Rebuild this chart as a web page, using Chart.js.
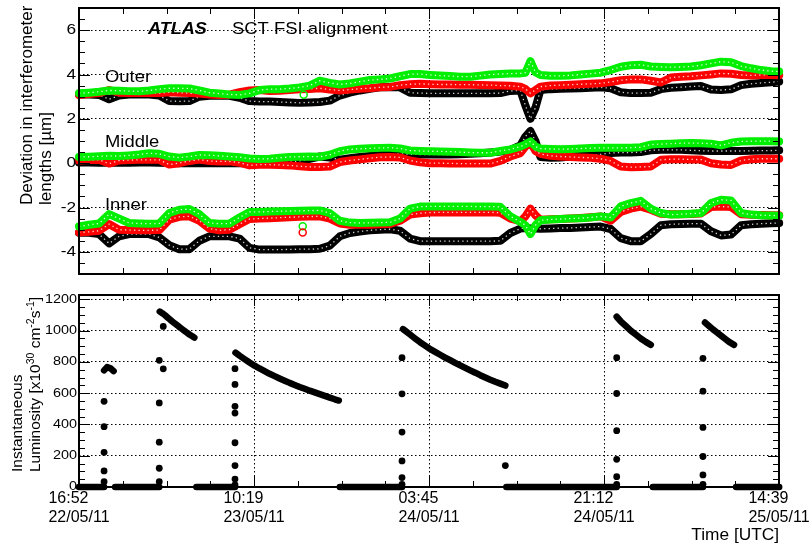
<!DOCTYPE html>
<html>
<head>
<meta charset="utf-8">
<script src="https://cdn.jsdelivr.net/npm/chart.js@4.4.0/dist/chart.umd.min.js"></script>
<style>
  html, body { margin: 0; padding: 0; background: #fff; }
  #wrap { position: relative; width: 811px; height: 544px; }
  canvas { position: absolute; left: 0; }
  #top { top: 0; }
  #bottom { top: 285px; }
</style>
</head>
<body>
<div id="wrap">
  <canvas id="top" width="811" height="285"></canvas>
  <canvas id="bottom" width="811" height="259"></canvas>
</div>
<script>
const FONT = '"Liberation Sans", Arial, Helvetica, sans-serif'

// time axis in hours since 16:52 22/05/11
const xTickHours = [0, 17.445, 34.89, 52.335, 69.78]
const xTickLabels = [['16:52', '22/05/11'], ['10:19', '23/05/11'], ['03:45', '24/05/11'], ['21:12', '24/05/11'], ['14:39', '25/05/11']]
const devTicks = [-4, -2, 0, 2, 4, 6]
const lumTicks = [0, 200, 400, 600, 800, 1000, 1200]

// FSI interferometer deviations [um]
const hours = [
  0, 1, 2, 3, 4, 5, 6, 7, 8, 9,
  10, 11, 12, 13, 14, 15, 16, 17, 18, 19,
  20, 21, 22, 23, 24, 25, 26, 27, 28, 29,
  30, 31, 32, 33, 34, 35, 36, 37, 38, 39,
  40, 41, 42, 43, 44, 44.5, 45, 45.5, 46, 47,
  48, 49, 50, 51, 52, 53, 54, 55, 56, 57,
  58, 59, 60, 61, 62, 63, 64, 65, 66, 67,
  68, 69, 69.8,
]
const outerBlack = [
  3.10, 3.10, 3.08, 2.88, 3.05, 3.10, 3.10, 3.10, 3.05, 2.80,
  2.79, 2.80, 3.00, 3.04, 3.04, 3.04, 2.95, 2.80, 2.78, 2.78,
  2.76, 2.74, 2.72, 2.74, 2.76, 2.82, 3.05, 3.18, 3.28, 3.36,
  3.42, 3.44, 3.42, 3.18, 3.16, 3.15, 3.15, 3.15, 3.15, 3.15,
  3.15, 3.15, 3.16, 3.26, 3.28, 2.60, 2.00, 2.50, 3.30, 3.34,
  3.36, 3.37, 3.38, 3.40, 3.42, 3.38, 3.20, 3.16, 3.16, 3.18,
  3.34, 3.40, 3.43, 3.46, 3.48, 3.32, 3.30, 3.33, 3.52, 3.58,
  3.62, 3.65, 3.68,
]
const outerRed = [
  3.08, 3.12, 3.16, 3.30, 3.18, 3.16, 3.16, 3.16, 3.16, 3.20,
  3.18, 3.16, 3.14, 3.10, 3.08, 3.09, 3.20, 3.28, 3.30, 3.26,
  3.27, 3.30, 3.33, 3.35, 3.38, 3.32, 3.28, 3.32, 3.36, 3.38,
  3.42, 3.44, 3.52, 3.56, 3.58, 3.56, 3.55, 3.55, 3.54, 3.54,
  3.53, 3.52, 3.50, 3.49, 3.45, 3.35, 3.15, 3.30, 3.45, 3.50,
  3.52, 3.54, 3.56, 3.58, 3.60, 3.66, 3.74, 3.78, 3.78, 3.72,
  3.64, 3.86, 3.90, 3.92, 3.96, 4.00, 4.05, 4.03, 3.98, 3.96,
  3.98, 3.98, 3.97,
]
const outerGreen = [
  3.15, 3.18, 3.22, 3.28, 3.27, 3.25, 3.24, 3.28, 3.34, 3.38,
  3.38, 3.37, 3.28, 3.18, 3.14, 3.10, 3.08, 3.15, 3.30, 3.34,
  3.34, 3.37, 3.42, 3.50, 3.72, 3.62, 3.55, 3.60, 3.68, 3.75,
  3.78, 3.82, 3.92, 4.02, 4.02, 3.98, 3.95, 3.93, 3.90, 3.90,
  3.95, 4.00, 4.02, 4.04, 4.05, 4.08, 4.60, 4.10, 3.98, 3.94,
  3.94, 3.96, 4.00, 4.04, 4.08, 4.20, 4.35, 4.42, 4.44, 4.36,
  4.34, 4.33, 4.34, 4.36, 4.42, 4.50, 4.58, 4.55, 4.38, 4.28,
  4.20, 4.15, 4.13,
]
const middleBlack = [
  0.03, 0.03, 0.02, 0.03, 0.02, 0.02, 0.03, 0.03, 0.02, 0.01,
  0.00, 0.00, 0.00, 0.00, 0.00, 0.00, 0.00, 0.00, 0.00, 0.00,
  0.02, 0.05, 0.10, 0.20, 0.30, 0.25, 0.16, 0.22, 0.28, 0.32,
  0.36, 0.40, 0.42, 0.40, 0.39, 0.39, 0.39, 0.39, 0.40, 0.42,
  0.45, 0.48, 0.52, 0.60, 0.80, 1.20, 1.45, 1.00, 0.28, 0.24,
  0.26, 0.30, 0.32, 0.34, 0.40, 0.46, 0.48, 0.48, 0.50, 0.58,
  0.60, 0.60, 0.60, 0.58, 0.56, 0.55, 0.55, 0.55, 0.55, 0.56,
  0.57, 0.57, 0.58,
]
const middleRed = [
  0.12, 0.14, 0.15, -0.02, 0.12, 0.14, 0.15, 0.15, 0.15, -0.06,
  0.00, 0.10, 0.16, 0.10, 0.08, 0.08, 0.02, -0.10, -0.07, -0.07,
  -0.08, -0.10, -0.14, -0.17, -0.17, -0.15, 0.05, 0.12, 0.17, 0.22,
  0.27, 0.28, 0.26, 0.12, 0.04, 0.00, 0.00, -0.01, -0.02, -0.02,
  -0.02, -0.02, 0.10, 0.30, 0.45, 0.75, 0.95, 0.55, 0.42, 0.33,
  0.30, 0.28, 0.26, 0.24, 0.20, 0.10, -0.15, -0.18, -0.17, -0.15,
  0.15, 0.18, 0.18, 0.17, 0.16, 0.00, -0.06, -0.08, 0.12, 0.18,
  0.20, 0.20, 0.20,
]
const middleGreen = [
  0.28, 0.29, 0.31, 0.33, 0.32, 0.35, 0.39, 0.45, 0.42, 0.30,
  0.25, 0.30, 0.37, 0.36, 0.33, 0.30, 0.27, 0.21, 0.19, 0.20,
  0.24, 0.28, 0.29, 0.30, 0.29, 0.38, 0.54, 0.62, 0.65, 0.67,
  0.69, 0.70, 0.66, 0.57, 0.55, 0.54, 0.53, 0.52, 0.50, 0.48,
  0.47, 0.47, 0.55, 0.62, 0.75, 0.85, 0.98, 0.75, 0.66, 0.64,
  0.63, 0.64, 0.66, 0.68, 0.69, 0.69, 0.69, 0.70, 0.72, 0.84,
  0.86, 0.88, 0.90, 0.91, 0.90, 0.88, 0.80, 0.92, 0.98, 0.99,
  0.99, 0.99, 0.98,
]
const innerBlack = [
  -3.14, -3.14, -3.20, -3.62, -3.30, -3.20, -3.20, -3.20, -3.35, -3.70,
  -3.88, -3.88, -3.50, -3.30, -3.30, -3.30, -3.40, -3.82, -3.90, -3.90,
  -3.90, -3.89, -3.88, -3.88, -3.86, -3.72, -3.30, -3.15, -3.08, -3.03,
  -3.00, -2.98, -3.05, -3.40, -3.52, -3.52, -3.52, -3.52, -3.52, -3.52,
  -3.52, -3.52, -3.50, -3.15, -2.95, -2.93, -2.95, -2.95, -2.96, -2.95,
  -2.93, -2.92, -2.90, -2.88, -2.86, -2.97, -3.38, -3.52, -3.52, -3.20,
  -2.80, -2.76, -2.74, -2.73, -2.73, -3.07, -3.26, -3.22, -2.80, -2.76,
  -2.73, -2.71, -2.70,
]
const innerRed = [
  -3.13, -3.10, -3.05, -2.75, -3.00, -3.02, -3.03, -3.03, -3.02, -2.55,
  -2.42, -2.40, -2.60, -2.95, -3.03, -3.00, -2.75, -2.52, -2.50, -2.48,
  -2.46, -2.44, -2.42, -2.41, -2.40, -2.50, -2.72, -2.78, -2.78, -2.78,
  -2.76, -2.74, -2.60, -2.32, -2.26, -2.23, -2.22, -2.22, -2.22, -2.22,
  -2.22, -2.22, -2.24, -2.50, -2.62, -2.40, -2.05, -2.35, -2.55, -2.53,
  -2.52, -2.50, -2.47, -2.44, -2.40, -2.60, -2.20, -2.05, -1.96, -2.10,
  -2.28, -2.30, -2.30, -2.29, -2.27, -1.98, -1.96, -1.98, -2.30, -2.33,
  -2.34, -2.35, -2.35,
]
const innerGreen = [
  -2.86, -2.78, -2.72, -2.30, -2.50, -2.70, -2.72, -2.73, -2.72, -2.25,
  -2.10, -2.07, -2.30, -2.70, -2.73, -2.73, -2.45, -2.20, -2.20, -2.18,
  -2.17, -2.16, -2.15, -2.14, -2.13, -2.25, -2.60, -2.68, -2.70, -2.69,
  -2.68, -2.67, -2.50, -2.05, -1.96, -1.95, -1.95, -1.95, -1.95, -1.95,
  -1.96, -1.96, -1.97, -2.40, -2.65, -2.80, -3.20, -2.80, -2.58, -2.54,
  -2.52, -2.50, -2.48, -2.45, -2.40, -2.45, -1.95, -1.80, -1.70, -2.05,
  -2.25, -2.32, -2.30, -2.28, -2.25, -1.80, -1.65, -1.68, -2.25, -2.32,
  -2.35, -2.36, -2.37,
]
// isolated readings away from the bands
const strayHours = [22.3, 22.3, 22.4]
const strayValues = [-2.85, -3.13, 3.09]
const strayColors = ['#00ee00', '#ff0000', '#00ee00']

// instantaneous luminosity [1e30 cm-2 s-1]
// stable-beam curves and zero stretches, null separates the pieces
const lumHours = [
  0, 0.5, 1, 1.5, 2, 2.5, 2.5,
  2.5, 2.8, 3.15, 3.45, 3.45,
  3.6, 4.2, 4.7, 5.2, 5.7, 6.2, 6.7, 7.2, 7.7, 8.0, 8.0,
  8.05, 8.3, 8.55, 8.8, 9.05, 9.3, 9.55, 9.8, 10.05, 10.3, 10.55, 10.8, 11.05, 11.3, 11.5, 11.5,
  11.7, 12.2, 12.7, 13.2, 13.7, 14.2, 14.7, 15.2, 15.55, 15.55,
  15.6, 16, 16.5, 17, 17.5, 18, 18.5, 19, 19.5, 20, 20.5, 21, 21.5, 22, 22.5, 23, 23.5, 24, 24.5, 25, 25.5, 25.9, 25.9,
  26, 26.5, 27, 27.5, 28, 28.5, 29, 29.5, 30, 30.5, 31, 31.5, 32, 32.2, 32.2,
  32.3, 32.5, 33, 33.5, 34, 34.5, 35, 35.5, 36, 36.5, 37, 37.5, 38, 38.5, 39, 39.5, 40, 40.5, 41, 41.5, 42, 42.5, 42.5,
  42.6, 43, 44, 45, 46, 47, 48, 49, 50, 51, 52, 53, 53.6, 53.6,
  53.6, 54, 54.5, 55, 55.5, 56, 56.5, 57, 57,
  57.2, 58, 59, 60, 61, 62, 62.2, 62.2,
  62.4, 62.8, 63.2, 63.6, 64, 64.4, 64.8, 65.3, 65.3,
  65.5, 66, 67, 68, 69, 69.8,
]
const lumValues = [
  0, 0, 0, 0, 0, 0, null,
  746, 767, 759, 741, null,
  0, 0, 0, 0, 0, 0, 0, 0, 0, 0, null,
  1122, 1112, 1100, 1086, 1072, 1059, 1046, 1034, 1021, 1009, 997, 985, 974, 964, 955, null,
  0, 0, 0, 0, 0, 0, 0, 0, 0, null,
  859, 840, 818, 796, 776, 758, 741, 724, 709, 694, 680, 666, 653, 640, 628, 616, 605, 594, 583, 572, 561, 553, null,
  0, 0, 0, 0, 0, 0, 0, 0, 0, 0, 0, 0, 0, 0, null,
  1010, 1000, 975, 950, 926, 904, 883, 864, 846, 828, 811, 794, 778, 762, 746, 731, 715, 700, 686, 673, 661, 649, null,
  0, 0, 0, 0, 0, 0, 0, 0, 0, 0, 0, 0, 0, null,
  1089, 1060, 1030, 1000, 975, 950, 928, 909, null,
  0, 0, 0, 0, 0, 0, 0, null,
  1052, 1030, 1008, 988, 968, 948, 928, 909, null,
  0, 0, 0, 0, 0, 0,
]
// isolated readings while beams ramp up
const rampHours = [
  2.5, 2.5, 2.5, 2.5, 2.5,
  8.0, 8.0, 8.0, 8.0, 8.0, 8.4, 8.4,
  15.55, 15.55, 15.55, 15.55, 15.55, 15.55, 15.55, 15.55,
  32.2, 32.2, 32.2, 32.2, 32.2, 32.2,
  42.5,
  53.6, 53.6, 53.6, 53.6, 53.6, 53.6,
  62.2, 62.2, 62.2, 62.2, 62.2, 62.2,
]
const rampValues = [
  34, 103, 222, 386, 548,
  34, 120, 287, 538, 810, 756, 1027,
  13, 51, 137, 283, 473, 516, 656, 757,
  17, 60, 167, 351, 596, 827,
  137,
  17, 66, 177, 360, 598, 827,
  17, 77, 195, 381, 613, 823,
]

function text(ctx, str, x, y, { size = 16, style = '', align = 'left', base = 'alphabetic', sx = 1, rot = 0 } = {}) {
  ctx.save()
  ctx.translate(x, y)
  if (rot) ctx.rotate(rot)
  ctx.scale(sx, 1)
  ctx.font = `${style} ${size}px ${FONT}`
  ctx.textAlign = align
  ctx.textBaseline = base
  ctx.fillStyle = '#000'
  ctx.fillText(str, 0, 0)
  ctx.restore()
}

// ROOT style frame with ticks on all four sides
function drawFrame(chart, yMajor, yStep) {
  const { ctx, chartArea: a, scales: { x, y } } = chart
  const xStep = xTickHours[1] / 4
  ctx.save()
  ctx.strokeStyle = '#000'
  ctx.lineWidth = 1
  ctx.beginPath()
  for (let v = y.min; v <= y.max + 1e-9; v += yStep) {
    const py = Math.round(y.getPixelForValue(v)) + 0.5
    const len = yMajor.some((m) => Math.abs(m - v) < 1e-6) ? 11 : 6
    ctx.moveTo(a.left, py); ctx.lineTo(a.left + len, py)
    ctx.moveTo(a.right, py); ctx.lineTo(a.right - len, py)
  }
  for (let i = 0; i <= 16; i++) {
    const px = Math.round(x.getPixelForValue(i * xStep)) + 0.5
    const len = i % 4 === 0 ? 11 : 6
    ctx.moveTo(px, a.bottom); ctx.lineTo(px, a.bottom - len)
    ctx.moveTo(px, a.top); ctx.lineTo(px, a.top + len)
  }
  ctx.stroke()
  ctx.lineWidth = 2
  ctx.strokeRect(a.left, a.top, a.right - a.left, a.bottom - a.top)
  ctx.restore()
}

function gridScale(ticks, extra) {
  return Object.assign({
    afterBuildTicks: (s) => { s.ticks = ticks.map((v) => ({ value: v })) },
    ticks: { display: false },
    grid: { color: '#000', lineWidth: 1, drawTicks: false },
    border: { display: false, dash: [1.5, 2.5] },
  }, extra)
}

// a band of open circles: thick coloured stroke with a speckled white core
function band(values, color, order) {
  const data = hours.map((h, i) => ({ x: h, y: values[i] }))
  const base = { data, pointRadius: 0, borderJoinStyle: 'round', borderCapStyle: 'round', clip: false }
  return [
    { ...base, borderColor: color, borderWidth: 8, order: order + 1 },
    { ...base, borderColor: 'rgba(255,255,255,0.85)', borderWidth: 1.3, borderCapStyle: 'butt', borderDash: [1.3, 3.2], order },
  ]
}

const topPlugin = {
  id: 'topDecor',
  afterDatasetsDraw(chart) {
    drawFrame(chart, devTicks, 0.5)
  },
  afterDraw(chart) {
    const { ctx, chartArea: a, scales: { y } } = chart
    devTicks.forEach((v) => text(ctx, String(v), a.left - 3, y.getPixelForValue(v), { size: 15, align: 'right', base: 'middle', sx: 1.15 }))
    text(ctx, 'ATLAS', 148, 34, { size: 16, style: 'italic bold', sx: 1.13 })
    text(ctx, 'SCT FSI alignment', 232, 34, { size: 16, sx: 1.15 })
    text(ctx, 'Outer', 105, 82, { size: 16, sx: 1.15 })
    text(ctx, 'Middle', 105, 147, { size: 16, sx: 1.15 })
    text(ctx, 'Inner', 105, 210, { size: 16, sx: 1.15 })
    text(ctx, 'Deviation in interferometer', 27, 205, { size: 17, base: 'middle', rot: -Math.PI / 2 })
    text(ctx, 'lengths [\u00b5m]', 46, 205, { size: 17, base: 'middle', rot: -Math.PI / 2 })
  },
}

const bottomPlugin = {
  id: 'bottomDecor',
  afterDatasetsDraw(chart) {
    drawFrame(chart, lumTicks, 50)
  },
  afterDraw(chart) {
    const { ctx, chartArea: a, scales: { x, y } } = chart
    lumTicks.forEach((v) => text(ctx, String(v), a.left - 2, y.getPixelForValue(v), { size: 12, align: 'right', base: 'middle', sx: 1.2 }))
    ctx.font = `16px ${FONT}`
    xTickHours.forEach((h, i) => {
      const [l1, l2] = xTickLabels[i]
      const w = Math.max(ctx.measureText(l1).width, ctx.measureText(l2).width)
      const left = x.getPixelForValue(h) - w / 2
      text(ctx, l1, left, 218, { size: 16 })
      text(ctx, l2, left, 237, { size: 16 })
    })
    text(ctx, 'Time [UTC]', a.right, 255, { size: 16, align: 'right', sx: 1.08 })
    text(ctx, 'Instantaneous', 18, 187, { size: 15.5, base: 'middle', rot: -Math.PI / 2 })
    // second title line with superscripts
    const runs = [['Luminosity [x10', 0], ['30', 1], [' cm', 0], ['-2', 1], ['s', 0], ['-1', 1], [']', 0]]
    ctx.save()
    ctx.translate(36, 187)
    ctx.rotate(-Math.PI / 2)
    ctx.fillStyle = '#000'
    ctx.textBaseline = 'middle'
    let cx = 0
    runs.forEach(([t, sup]) => {
      ctx.font = `${sup ? 10.5 : 15.5}px ${FONT}`
      ctx.fillText(t, cx, sup ? -5 : 0)
      cx += ctx.measureText(t).width
    })
    ctx.restore()
  },
}

const common = {
  responsive: false,
  animation: false,
  events: [],
  plugins: { legend: { display: false }, tooltip: { enabled: false } },
}

new Chart(document.getElementById('top'), {
  type: 'line',
  data: {
    datasets: [
      ...band(outerBlack, '#000000', 4), ...band(outerRed, '#ff0000', 2), ...band(outerGreen, '#00ee00', 0),
      ...band(middleBlack, '#000000', 4), ...band(middleRed, '#ff0000', 2), ...band(middleGreen, '#00ee00', 0),
      ...band(innerBlack, '#000000', 4), ...band(innerRed, '#ff0000', 2), ...band(innerGreen, '#00ee00', 0),
      {
        data: strayHours.map((h, i) => ({ x: h, y: strayValues[i] })),
        showLine: false,
        pointRadius: 3.5,
        pointBorderWidth: 1.5,
        pointBorderColor: strayColors,
        pointBackgroundColor: 'rgba(0,0,0,0)',
        order: -1,
        clip: false,
      },
    ],
  },
  options: {
    ...common,
    layout: { padding: { left: 0, right: 32, top: 8, bottom: 0 } },
    scales: {
      x: gridScale(xTickHours, { type: 'linear', min: 0, max: 69.78, afterFit: (s) => { s.height = 11 } }),
      y: gridScale(devTicks, { type: 'linear', min: -5, max: 7, afterFit: (s) => { s.width = 79 } }),
    },
  },
  plugins: [topPlugin],
})

new Chart(document.getElementById('bottom'), {
  type: 'scatter',
  data: {
    datasets: [
      {
        data: lumHours.map((h, i) => ({ x: h, y: lumValues[i] })),
        showLine: true,
        spanGaps: false,
        borderColor: '#000',
        borderWidth: 6.5,
        borderCapStyle: 'round',
        borderJoinStyle: 'round',
        pointRadius: 0,
        clip: false,
      },
      {
        data: rampHours.map((h, i) => ({ x: h, y: rampValues[i] })),
        pointRadius: 3.4,
        pointBorderWidth: 0,
        pointBackgroundColor: '#000',
        clip: false,
      },
    ],
  },
  options: {
    ...common,
    layout: { padding: { left: 0, right: 32, top: 10, bottom: 0 } },
    scales: {
      x: gridScale(xTickHours, { type: 'linear', min: 0, max: 69.78, afterFit: (s) => { s.height = 57 } }),
      y: gridScale(lumTicks, { type: 'linear', min: 0, max: 1228, afterFit: (s) => { s.width = 79 } }),
    },
  },
  plugins: [bottomPlugin],
})
</script>
</body>
</html>
